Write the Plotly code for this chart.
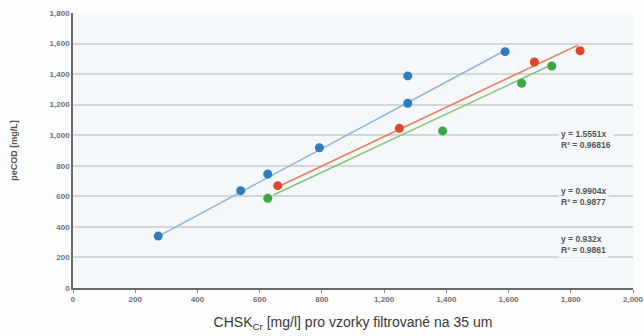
import plotly.graph_objects as go

# Data (x in axis units 0..1800 mapped to tick positions)
x_ticks = [0, 200, 400, 600, 800, 1000, 1200, 1400, 1600, 1800]
x_ticktext = ["0", "200", "400", "600", "800", "1,200", "1,400", "1,600", "1,800", "2,000"]
y_ticks = [0, 200, 400, 600, 800, 1000, 1200, 1400, 1600, 1800]
y_ticktext = ["0", "200", "400", "600", "800", "1,000", "1,200", "1,400", "1,600", "1,800"]

blue_x = [274, 539, 626, 792, 1076, 1076, 1389]
blue_y = [340, 637, 746, 918, 1209, 1388, 1547]
red_x = [658, 1049, 1483, 1630]
red_y = [670, 1045, 1479, 1553]
green_x = [626, 1188, 1442, 1539]
green_y = [587, 1028, 1340, 1453]

blue_line_x = [280, 1378]
blue_line_y = [345, 1543]
red_line_x = [671, 1623]
red_line_y = [674, 1590]
green_line_x = [644, 1549]
green_line_y = [609, 1471]

eq_texts = ["y = 1.5551x<br>R² = 0.96816", "y = 0.9904x<br>R² = 0.9877", "y = 0.932x<br>R² = 0.9861"]
eq_x = 1560
eq_y = [975, 600, 285]

fig = go.Figure()
series = [
    (blue_line_x, blue_line_y, blue_x, blue_y, "#8db6da", "#2f7dbd"),
    (red_line_x, red_line_y, red_x, red_y, "#ec7b5c", "#e2462a"),
    (green_line_x, green_line_y, green_x, green_y, "#86c474", "#3aa843"),
]
for lx, ly, px, py, lc, mc in series:
    fig.add_trace(go.Scatter(x=lx, y=ly, mode="lines", line=dict(color=lc, width=1.5),
                             showlegend=False, hoverinfo="skip"))
for lx, ly, px, py, lc, mc in series:
    fig.add_trace(go.Scatter(x=px, y=py, mode="markers",
                             marker=dict(color=mc, size=9, line=dict(width=0)),
                             showlegend=False))

for t, yv in zip(eq_texts, eq_y):
    fig.add_annotation(x=eq_x, y=yv, xref="x", yref="y", text=t, showarrow=False,
                       xanchor="left", yanchor="middle", align="left",
                       font=dict(family="Arial, Liberation Sans", size=8.5, color="#555555", weight="bold"),
                       bgcolor="#f5f8fb", borderpad=2)

fig.update_layout(
    width=644, height=336,
    margin=dict(l=73, r=11, t=13, b=48),
    paper_bgcolor="#fcfdfd",
    plot_bgcolor="#f5f8fb",
    font=dict(family="Arial, Liberation Sans", color="#555555"),
)
fig.update_xaxes(
    range=[0, 1800], tickvals=x_ticks, ticktext=x_ticktext, automargin=False,
    showgrid=False, zeroline=False, showline=True, linecolor="#6a6a6a", linewidth=1.5,
    ticks="outside", ticklen=3, tickcolor="#888888",
    tickfont=dict(size=8, color="#707070", weight="bold"),
    title=dict(text="CHSK<sub>Cr</sub> [mg/l] pro vzorky filtrované na 35 um",
               font=dict(size=14, color="#3a3a3a"), standoff=14),
)
fig.update_yaxes(
    range=[0, 1800], tickvals=y_ticks, ticktext=y_ticktext, automargin=False,
    showgrid=True, gridcolor="#d6d6d6", gridwidth=2, zeroline=False,
    showline=True, linecolor="#6a6a6a", linewidth=1.5,
    ticks="", tickfont=dict(size=8, color="#707070", weight="bold"),
    title=dict(text="peCOD [mg/L]", font=dict(size=9, color="#555555", weight="bold"), standoff=30),
)

fig.write_html("out.html")
